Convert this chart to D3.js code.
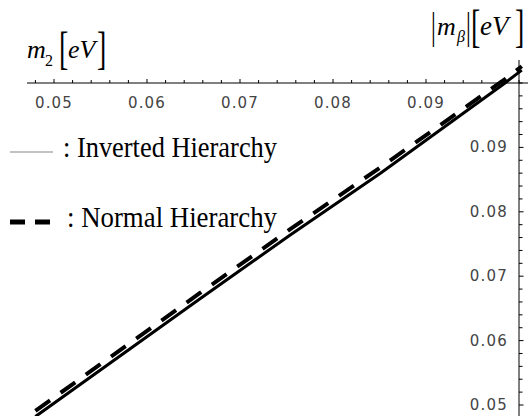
<!DOCTYPE html>
<html>
<head>
<meta charset="utf-8">
<script src="https://cdn.jsdelivr.net/npm/d3@7"></script>
<style>
  html, body { margin: 0; padding: 0; background: #fff; }
  svg { display: block; }
  .tick-label { font-family: "DejaVu Sans", sans-serif; font-size: 15px; letter-spacing: 1.2px; fill: #444; }
  .title { font-family: "Liberation Serif", "Times New Roman", serif; fill: #000; }
  .legend-text { font-family: "Liberation Serif", "Times New Roman", serif; font-size: 30px; fill: #000; }
</style>
</head>
<body>
<script>
"use strict"

// m2 [eV] and |m_beta| [eV]
const invertedM2    = [0.0480, 0.0657, 0.0754, 0.0851, 0.0985, 0.1003]
const invertedMbeta = [0.0482, 0.0665, 0.0764, 0.0860, 0.1000, 0.1020]
const normalM2      = [0.0480, 0.0657, 0.0754, 0.0851, 0.0985, 0.1003]
const normalMbeta   = [0.0491, 0.0674, 0.0773, 0.0869, 0.1006, 0.1026]

const xTicks      = [0.05, 0.06, 0.07, 0.08, 0.09]
const xTickLabels = ["0.05", "0.06", "0.07", "0.08", "0.09"]
const yTicks      = [0.05, 0.06, 0.07, 0.08, 0.09]
const yTickLabels = ["0.05", "0.06", "0.07", "0.08", "0.09"]
const minorStep   = 0.002

const legendLabels = [": Inverted Hierarchy", ": Normal Hierarchy"]

const width  = 528
const height = 416

const x = d3.scaleLinear().domain([0.05, 0.1]).range([54, 519])
const y = d3.scaleLinear().domain([0.05, 0.1]).range([405, 83])

const svg = d3.select("body").append("svg")
  .attr("width", width)
  .attr("height", height)

const zip = (xs, ys) => xs.map((v, i) => [v, ys[i]])
const line = d3.line().x(d => x(d[0])).y(d => y(d[1]))

// axes cross at (0.1, 0.1), top right
const x0 = x(0.1)
const y0 = y(0.1)

svg.append("line")
  .attr("x1", 27).attr("x2", width)
  .attr("y1", y0).attr("y2", y0)
  .attr("stroke", "#000").attr("stroke-width", 1)

svg.append("line")
  .attr("x1", x0).attr("x2", x0)
  .attr("y1", 60).attr("y2", height)
  .attr("stroke", "#000").attr("stroke-width", 1)

const minorTicks = d3.range(0.048, 0.1001, minorStep)
const isMajor = v => xTicks.some(t => Math.abs(t - v) < 1e-6)

svg.append("g").selectAll("line")
  .data(minorTicks)
  .join("line")
    .attr("x1", d => x(d)).attr("x2", d => x(d))
    .attr("y1", y0).attr("y2", d => y0 - (isMajor(d) ? 4 : 3))
    .attr("stroke", "#000").attr("stroke-width", 1)

svg.append("g").selectAll("line")
  .data(minorTicks.filter(v => v >= 0.05 - 1e-6))
  .join("line")
    .attr("y1", d => y(d)).attr("y2", d => y(d))
    .attr("x1", x0).attr("x2", d => x0 + (isMajor(d) ? 4.5 : 3.5))
    .attr("stroke", "#000").attr("stroke-width", 1)

svg.append("g").selectAll("text")
  .data(xTicks)
  .join("text")
    .attr("class", "tick-label")
    .attr("x", d => x(d))
    .attr("y", y0 + 25)
    .attr("text-anchor", "middle")
    .text((d, i) => xTickLabels[i])

svg.append("g").selectAll("text")
  .data(yTicks)
  .join("text")
    .attr("class", "tick-label")
    .attr("x", x0 - 11)
    .attr("y", d => y(d) + 5)
    .attr("text-anchor", "end")
    .text((d, i) => yTickLabels[i])

// curves
svg.append("path")
  .datum(zip(invertedM2, invertedMbeta))
  .attr("d", line)
  .attr("fill", "none")
  .attr("stroke", "#000")
  .attr("stroke-width", 3)

svg.append("path")
  .datum(zip(normalM2, normalMbeta))
  .attr("d", line)
  .attr("fill", "none")
  .attr("stroke", "#000")
  .attr("stroke-width", 4)
  .attr("stroke-dasharray", "18 13")

// axis titles, brackets stretched tall and thin like the original
const piece = (txt, px, py, size, italic, sy = 1) => svg.append("text")
  .attr("class", "title")
  .attr("transform", `translate(${px} ${py}) scale(1 ${sy})`)
  .attr("font-size", size)
  .attr("font-style", italic ? "italic" : "normal")
  .text(txt)

piece("m", 27, 58, 26, true)
piece("2", 45, 66, 16, false)
piece("[", 59, 64, 28, false, 1.65)
piece("eV", 68, 58, 26, true)
piece("]", 97, 64, 28, false, 1.65)

piece("|", 431, 39, 24, false, 1.6)
piece("m", 437, 35, 26, true)
piece("β", 457, 42, 16, true)
piece("|", 466, 39, 24, false, 1.6)
piece("[", 471, 42, 28, false, 1.65)
piece("eV", 480, 35, 27, true)
piece("]", 515, 42, 28, false, 1.65)

// legend
const legend = svg.append("g")

legend.append("line")
  .attr("x1", 10).attr("x2", 53)
  .attr("y1", 152).attr("y2", 152)
  .attr("stroke", "#888").attr("stroke-width", 1.2)

legend.append("line")
  .attr("x1", 10).attr("x2", 50)
  .attr("y1", 222).attr("y2", 222)
  .attr("stroke", "#000").attr("stroke-width", 5)
  .attr("stroke-dasharray", "15 10")

legend.selectAll(".legend-text")
  .data(legendLabels)
  .join("text")
    .attr("class", "legend-text")
    .attr("x", (d, i) => i ? 67 : 63)
    .attr("y", (d, i) => i ? 227 : 157)
    .attr("textLength", (d, i) => i ? 210 : 214)
    .attr("lengthAdjust", "spacingAndGlyphs")
    .text(d => d)
</script>
</body>
</html>
